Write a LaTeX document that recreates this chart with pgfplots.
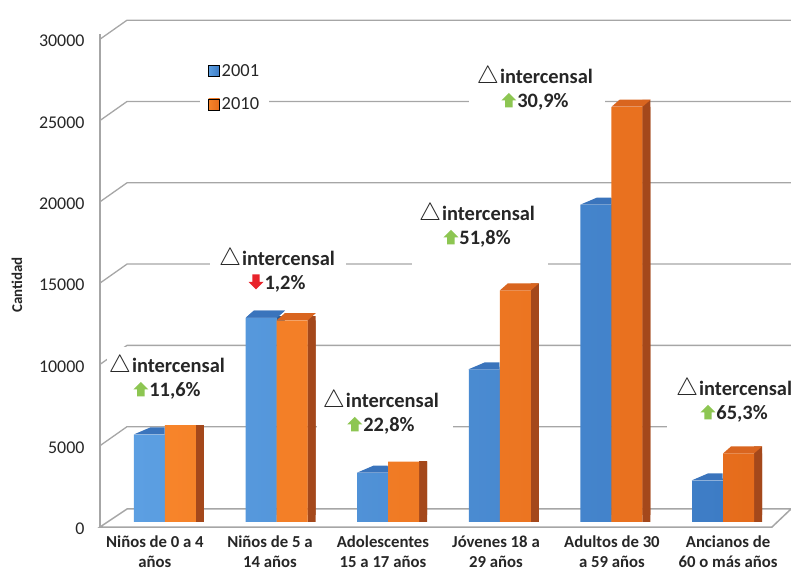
\documentclass[border=0pt]{standalone}
\usepackage{pgfplots}
\pgfplotsset{compat=1.18}
\usetikzlibrary{shapes.geometric}
\usepackage{fontspec}
\setmainfont{Carlito}
\definecolor{bluefrontL}{HTML}{5C9FE2}
\definecolor{bluefrontR}{HTML}{3D7CC5}
\definecolor{bluetop}{HTML}{3A74BC}
\definecolor{blueside}{HTML}{2B5C94}
\definecolor{orfrontL}{HTML}{F7842A}
\definecolor{orfrontR}{HTML}{E56C1C}
\definecolor{ortop}{HTML}{D9651F}
\definecolor{orside}{HTML}{A4481B}
\definecolor{gridgray}{HTML}{A6A6A6}
\definecolor{txt}{HTML}{262626}
\definecolor{upgreen}{HTML}{8DC652}
\definecolor{downred}{HTML}{E8232A}
\newcommand{\uparr}{\begin{pgfpicture}\pgfsetcolor{upgreen}%
\pgfpathmoveto{\pgfpoint{3.8bp}{0bp}}\pgfpathlineto{\pgfpoint{11.2bp}{0bp}}\pgfpathlineto{\pgfpoint{11.2bp}{7bp}}%
\pgfpathlineto{\pgfpoint{15bp}{7bp}}\pgfpathlineto{\pgfpoint{7.5bp}{14.5bp}}\pgfpathlineto{\pgfpoint{0bp}{7bp}}%
\pgfpathlineto{\pgfpoint{3.8bp}{7bp}}\pgfpathclose\pgfusepath{fill}\end{pgfpicture}}
\newcommand{\downarr}{\begin{pgfpicture}\pgfsetcolor{downred}%
\pgfpathmoveto{\pgfpoint{3.8bp}{15bp}}\pgfpathlineto{\pgfpoint{11.2bp}{15bp}}\pgfpathlineto{\pgfpoint{11.2bp}{7.5bp}}%
\pgfpathlineto{\pgfpoint{15bp}{7.5bp}}\pgfpathlineto{\pgfpoint{7.5bp}{0bp}}\pgfpathlineto{\pgfpoint{0bp}{7.5bp}}%
\pgfpathlineto{\pgfpoint{3.8bp}{7.5bp}}\pgfpathclose\pgfusepath{fill}\end{pgfpicture}}
\newcommand{\lab}[2]{{\fontsize{23}{24.5}\selectfont$\triangle$}\hspace{1bp}intercensal\\#1\hspace{1bp}#2}
\begin{document}
\begin{tikzpicture}
\path[use as bounding box] (0,0) rectangle (791bp,576bp);
\begin{axis}[
  at={(100bp,49bp)}, anchor=south west,
  scale only axis, width=672bp, height=492.8bp,
  xmin=-0.582, xmax=5.439, ymin=-308, ymax=30000,
  point meta min=0, point meta max=30000,
  clip=false,
  axis lines*=left, axis line style={draw=none},
  major tick length=0pt,
  xtick={-0.09,0.941,1.953,2.966,4.005,5.045},
  xticklabels={{Niños de 0 a 4\\años},{Niños de 5 a\\14 años},{Adolescentes\\15 a 17 años},{Jóvenes 18 a\\29 años},{Adultos de 30\\a 59 años},{Ancianos de\\60 o más años}},
  xticklabel style={align=center, font=\bfseries\fontsize{16.8}{20}\selectfont, text=txt, yshift=-5bp},
  ytick={0,5000,10000,15000,20000,25000,30000},
  scaled y ticks=false,
  yticklabel style={font=\fontsize{18}{20}\selectfont, text=txt, xshift=-12bp, yshift=-7bp},
  /pgf/number format/assume math mode=true,
  /pgf/number format/1000 sep={},
  legend style={at={(0.149,0.952)}, anchor=north west, draw=none, fill=white, inner xsep=8bp, inner ysep=4bp, font=\fontsize{18.5}{20}\selectfont, row sep=16bp, text=txt},
  legend cell align=left,
]
% floor, grid and axis line
\fill[white] (rel axis cs:0,0) -- (rel axis cs:1,0) -- ++(canvas cs:x=19bp,y=18bp) -- ++(canvas cs:x=-664bp,y=0bp) -- cycle;
\draw[gridgray, line width=1.5bp] (rel axis cs:0,0) -- (rel axis cs:1,0) -- ++(canvas cs:x=19bp,y=18bp) -- ++(canvas cs:x=-664bp,y=0bp) -- cycle;
\draw[gridgray, line width=1.3bp] (axis cs:-0.582,5000) ++(canvas cs:x=0bp,y=-5bp) -- ++(canvas cs:x=27bp,y=19bp) -- ++(canvas cs:x=664bp,y=0bp);
\draw[gridgray, line width=1.3bp] (axis cs:-0.582,10000) ++(canvas cs:x=0bp,y=-5bp) -- ++(canvas cs:x=27bp,y=19bp) -- ++(canvas cs:x=664bp,y=0bp);
\draw[gridgray, line width=1.3bp] (axis cs:-0.582,15000) ++(canvas cs:x=0bp,y=-5bp) -- ++(canvas cs:x=27bp,y=19bp) -- ++(canvas cs:x=664bp,y=0bp);
\draw[gridgray, line width=1.3bp] (axis cs:-0.582,20000) ++(canvas cs:x=0bp,y=-5bp) -- ++(canvas cs:x=27bp,y=19bp) -- ++(canvas cs:x=664bp,y=0bp);
\draw[gridgray, line width=1.3bp] (axis cs:-0.582,25000) ++(canvas cs:x=0bp,y=-5bp) -- ++(canvas cs:x=27bp,y=19bp) -- ++(canvas cs:x=664bp,y=0bp);
\draw[gridgray, line width=1.3bp] (axis cs:-0.582,30000) ++(canvas cs:x=0bp,y=-5bp) -- ++(canvas cs:x=27bp,y=19bp) -- ++(canvas cs:x=664bp,y=0bp);
\draw[gridgray, line width=1.3bp] (rel axis cs:0,0) -- (axis cs:-0.582,30000) -- ++(canvas cs:x=0bp,y=-5bp);
% legend
\addlegendimage{legend image code/.code={\shade[left color=bluefrontL,right color=bluefrontR] (canvas cs:x=0bp,y=-5.5bp) rectangle (canvas cs:x=11bp,y=5.5bp);}}
\addlegendentry{2001}
\addlegendimage{legend image code/.code={\shade[left color=orfrontL,right color=orfrontR] (canvas cs:x=0bp,y=-5.5bp) rectangle (canvas cs:x=11bp,y=5.5bp);}}
\addlegendentry{2010}
% 2001 bars (side and front faces)
\addplot[ybar, forget plot, bar width=8bp, bar shift=4bp, draw=none, fill=blueside] coordinates {(0,5370) (1,12550) (2,3020) (3,9380) (4,19500) (5,2550)};
\addplot[ybar, forget plot, bar width=8bp, bar shift=4bp, draw=none, fill=blueside, yshift=7bp] coordinates {(0,5370) (1,12550) (2,3020) (3,9380) (4,19500) (5,2550)};
\addplot[ybar, forget plot, bar width=31bp, bar shift=-15.5bp, draw=none, left color=bluefrontL, right color=bluefrontR]
  coordinates {(0,5370) (1,12550) (2,3020) (3,9380) (4,19500) (5,2550)};
% 2010 bars (side and front faces)
\addplot[ybar, forget plot, bar width=8bp, bar shift=35bp, draw=none, fill=orside] coordinates {(0,5990) (1,12400) (2,3710) (3,14240) (4,25530) (5,4215)};
\addplot[ybar, forget plot, bar width=8bp, bar shift=35bp, draw=none, fill=orside, yshift=7bp] coordinates {(0,5990) (1,12400) (2,3710) (3,14240) (4,25530) (5,4215)};
\addplot[ybar, forget plot, bar width=31bp, bar shift=15.5bp, draw=none, left color=orfrontL, right color=orfrontR]
  coordinates {(0,5990) (1,12400) (2,3710) (3,14240) (4,25530) (5,4215)};
% top faces of the bars
\addplot[ybar, forget plot, bar width=31bp, draw=none, fill=none,
  nodes near coords={\phantom{\rule{1bp}{1bp}}},
  every node near coord/.append style={shape=trapezium, trapezium left angle=41.2, trapezium right angle=89, trapezium stretches=true,
    anchor=bottom right corner, inner sep=0pt, minimum width=31bp, minimum height=7bp, fill=bluetop, draw=none}]
  coordinates {(0,5370) (2,3020) (3,9380) (4,19500) (5,2550)};
\addplot[ybar, forget plot, bar width=31bp, draw=none, fill=none,
  nodes near coords={\hbox{}},
  every node near coord/.append style={anchor=south, inner sep=0pt, minimum width=31bp, minimum height=7bp, xshift=-15.5bp, xslant=1.143, fill=bluetop, draw=none}]
  coordinates {(1,12550) (1,12550)};
\addplot[ybar, forget plot, bar width=31bp, draw=none, fill=none,
  nodes near coords={\hbox{}},
  every node near coord/.append style={anchor=south, inner sep=0pt, minimum width=31bp, minimum height=7bp, xshift=15.5bp, xslant=1.143, fill=ortop, draw=none}]
  coordinates {(1,12400) (3,14240) (4,25530) (5,4215)};
% labels
\tikzset{lbox/.style={fill=white, minimum width=136bp, minimum height=78bp, inner sep=0pt},
         lbl/.style={align=center, font=\bfseries\fontsize{20.5}{24.5}\selectfont, text=txt, inner sep=0pt}}
\node[lbox] at (axis cs:0.0896,8364) {};
\node[lbl] at (axis cs:0.018,8918) {\lab{\uparr}{11,6\%}};
\node[lbox] at (axis cs:1.0125,15068) {};
\node[lbl] at (axis cs:1.0036,15498) {\lab{\downarr}{1,2\%}};
\node[lbox, minimum height=83bp] at (axis cs:1.971,6304) {};
\node[lbl] at (axis cs:1.935,6765) {\lab{\uparr}{22,8\%}};
\node[lbox] at (axis cs:2.823,17835) {};
\node[lbl] at (axis cs:2.796,18266) {\lab{\uparr}{51,8\%}};
\node[lbox] at (axis cs:3.333,26261) {};
\node[lbl] at (axis cs:3.315,26691) {\lab{\uparr}{30,9\%}};
\node[lbox] at (axis cs:5.108,7073) {};
\node[lbl] at (axis cs:5.099,7503) {\lab{\uparr}{65,3\%}};
\end{axis}
\node[rotate=90, font=\bfseries\fontsize{15}{18}\selectfont, text=txt] at (17bp,291bp) {Cantidad};
\end{tikzpicture}
\end{document}
